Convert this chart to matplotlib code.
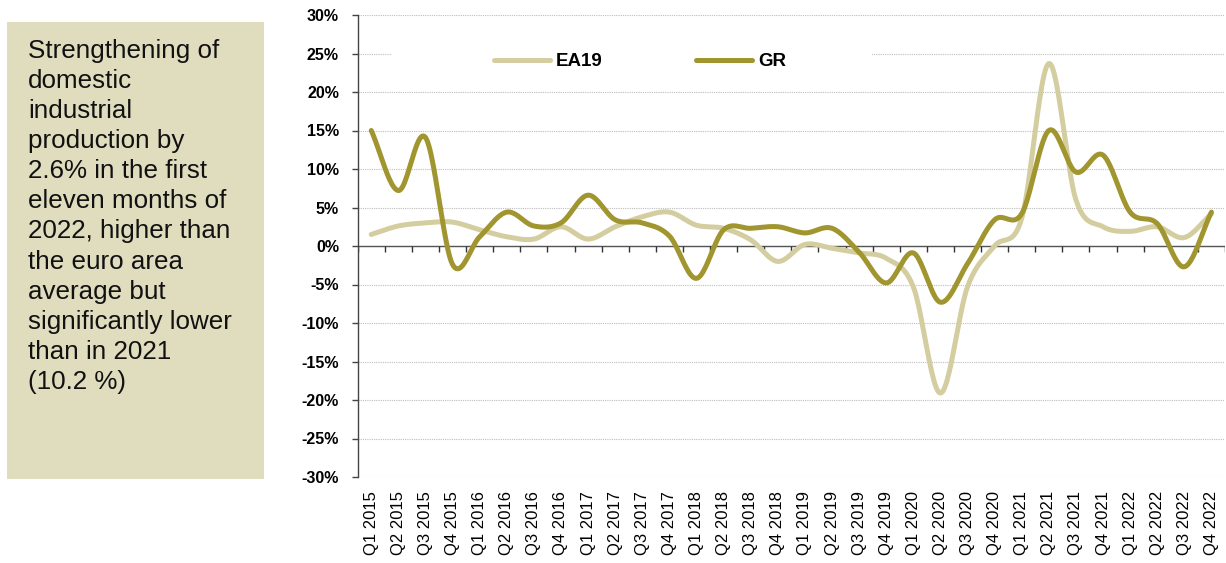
import numpy as np
import matplotlib
matplotlib.use("Agg")
import matplotlib.pyplot as plt
from matplotlib.patches import Rectangle

# Quarterly industrial production growth, % y/y
quarters = [f"Q{q} {y}" for y in range(2015, 2023) for q in range(1, 5)]

ea19 = [1.5, 2.6, 3.0, 3.1, 2.1, 1.2, 0.9, 2.5,
        0.9, 2.5, 3.8, 4.4, 2.7, 2.3, 0.8, -2.0,
        0.2, -0.3, -0.9, -1.6, -5.3, -19.1, -5.3, 0.0,
        3.6, 23.7, 6.0, 2.5, 1.9, 2.5, 1.1, 4.2]

gr = [15.0, 7.2, 14.1, -2.4, 1.2, 4.4, 2.6, 3.0,
      6.6, 3.4, 3.0, 1.3, -4.2, 2.1, 2.3, 2.5,
      1.7, 2.3, -0.8, -4.8, -0.9, -7.3, -2.3, 3.4,
      4.2, 15.0, 9.6, 11.8, 4.4, 2.9, -2.7, 4.4]

series_names = ["EA19", "GR"]
y_ticks = list(range(-30, 31, 5))

note = ("Strengthening of\ndomestic\nindustrial\nproduction by\n2.6% in the first\n"
        "eleven months of\n2022, higher than\nthe euro area\naverage but\n"
        "significantly lower\nthan in 2021\n(10.2 %)")

COL_EA = "#D3CD9F"
COL_GR = "#A0952F"
BOX_BG = "#E0DCBE"


def smooth(xs, ys, steps=24):
    """Catmull-Rom curve through the points (spreadsheet-style smoothed line)."""
    xs = np.asarray(xs, float)
    ys = np.asarray(ys, float)
    px = np.concatenate([[2 * xs[0] - xs[1]], xs, [2 * xs[-1] - xs[-2]]])
    py = np.concatenate([[2 * ys[0] - ys[1]], ys, [2 * ys[-1] - ys[-2]]])
    out_x, out_y = [], []
    t = np.linspace(0, 1, steps, endpoint=False)
    for i in range(1, len(px) - 2):
        for arr, out in ((px, out_x), (py, out_y)):
            p0, p1, p2, p3 = arr[i - 1], arr[i], arr[i + 1], arr[i + 2]
            out.extend(0.5 * ((2 * p1) + (-p0 + p2) * t
                              + (2 * p0 - 5 * p1 + 4 * p2 - p3) * t ** 2
                              + (-p0 + 3 * p1 - 3 * p2 + p3) * t ** 3))
    out_x.append(xs[-1])
    out_y.append(ys[-1])
    return np.array(out_x), np.array(out_y)


fig = plt.figure(figsize=(12.26, 5.63), dpi=100)

# Commentary panel on the left
fig.patches.append(Rectangle((7 / 1226, 1 - 479 / 563), 257 / 1226, 457 / 563,
                             transform=fig.transFigure, facecolor=BOX_BG,
                             edgecolor="none", zorder=0))
fig.text(28 / 1226, 1 - 39 / 563, note, ha="left", va="top",
         fontsize=18.7, family=["Liberation Sans", "DejaVu Sans"],
         linespacing=1.32, color="#111111")

ax = fig.add_axes([357.7 / 1226, 1 - 477 / 563, 867.3 / 1226, 462 / 563])

x = np.arange(len(quarters))
for vals, col, name in ((ea19, COL_EA, series_names[0]), (gr, COL_GR, series_names[1])):
    sx, sy = smooth(x, vals)
    ax.plot(sx, sy, color=col, lw=3.6, solid_capstyle="round",
            solid_joinstyle="round", label=name, zorder=3)

ax.set_xlim(-0.5, len(quarters) - 0.5)
ax.set_ylim(-30, 30)

# horizontal grid
for v in y_ticks:
    ax.axhline(v, color="#BDBDBD", lw=0.8, ls=(0, (1, 1)), zorder=1)

# white legend area sitting over the grid
ax.add_patch(Rectangle((0.0395, 0.874), 0.554, 0.061, transform=ax.transAxes,
                       facecolor="white", edgecolor="none", zorder=1.5))

# zero line with category boundary ticks
ax.axhline(0, color="#555555", lw=1.0, zorder=2)
bounds = np.arange(len(quarters) + 1) - 0.5
ax.vlines(bounds, -0.75, 0, color="#333333", lw=1.0, zorder=2)

for s in ("top", "right", "bottom"):
    ax.spines[s].set_visible(False)
ax.spines["left"].set_color("#444444")
ax.spines["left"].set_linewidth(1.0)

ax.set_yticks(y_ticks)
ax.set_yticklabels([f"{v}%" for v in y_ticks])
ax.tick_params(axis="y", length=4.5, width=1.0, color="#444444", pad=9)
for lab in ax.get_yticklabels():
    lab.set_fontfamily(["Liberation Sans", "DejaVu Sans"])
    lab.set_fontweight("bold")
    lab.set_fontsize(11.5)

ax.set_xticks(x)
ax.set_xticklabels(quarters, rotation=90, fontsize=12,
                   family=["Liberation Sans", "DejaVu Sans"])
ax.tick_params(axis="x", length=0, pad=10)

leg = ax.legend(loc="upper left", bbox_to_anchor=(0.135, 0.958), ncol=2,
                frameon=True, handlelength=3.0, handletextpad=0.3,
                columnspacing=5.0, borderpad=0.5,
                prop={"family": ["Liberation Sans Narrow", "Liberation Sans", "DejaVu Sans"],
                      "weight": "bold", "size": 13.5})
leg.get_frame().set_facecolor("white")
leg.get_frame().set_edgecolor("none")
leg.get_frame().set_alpha(1.0)
leg.set_zorder(4)

fig.savefig("out.png", dpi=100)
